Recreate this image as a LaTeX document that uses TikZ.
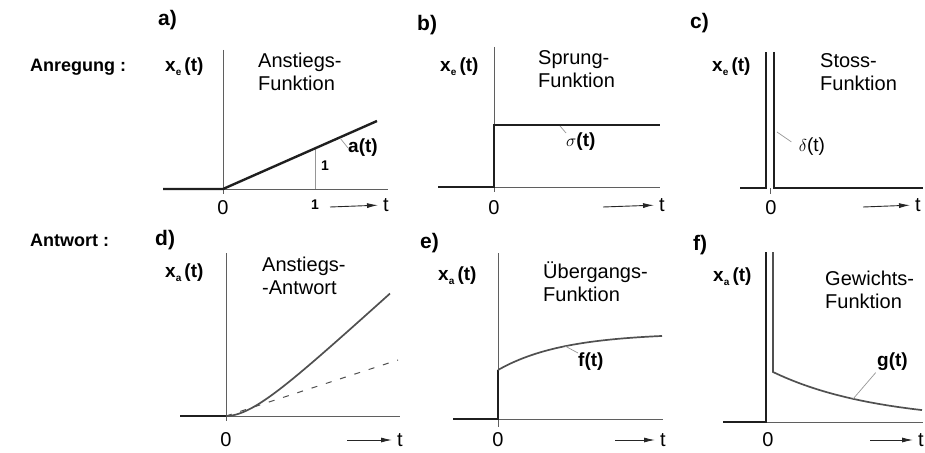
\documentclass[tikz,border=0pt]{standalone}
\usepackage{fontspec}
\setmainfont{Liberation Sans}
\usetikzlibrary{arrows.meta}
\definecolor{axisgray}{RGB}{95,95,95}
\definecolor{curvegray}{RGB}{80,80,80}
\definecolor{leadgray}{RGB}{150,150,150}
\newcommand{\lowidx}[1]{\raisebox{-0.35ex}{\fontsize{10}{10}\selectfont #1}}

\begin{document}
\begin{tikzpicture}[
    x=1pt, y=-1pt,
    axis/.style={draw=axisgray, line width=0.9pt},
    signal/.style={draw=black!88, line width=2.4pt},
    answer/.style={draw=curvegray, line width=1.7pt},
    leader/.style={draw=leadgray, line width=0.7pt},
    guess/.style={draw=curvegray, line width=1pt, dash pattern=on 6pt off 9pt},
    title/.style={font=\fontsize{20}{23}\selectfont, align=left, anchor=north west, inner sep=0pt},
    rowlabel/.style={font=\fontsize{18}{20}\selectfont\bfseries, anchor=west, inner sep=0pt},
    panel/.style={font=\fontsize{21}{24}\selectfont\bfseries, anchor=west, inner sep=0pt},
    ylabel/.style={font=\fontsize{19}{22}\selectfont\bfseries, anchor=west, inner sep=0pt},
    fnlabel/.style={font=\fontsize{19}{22}\selectfont\bfseries, inner sep=0pt},
    fnplain/.style={font=\fontsize{19}{22}\selectfont, inner sep=0pt},
    tick/.style={font=\fontsize{20}{22}\selectfont, inner sep=0pt},
    unit/.style={font=\fontsize{14}{16}\selectfont\bfseries, inner sep=0pt},
    tarrow/.style={-{Latex[length=11pt, width=5pt]}, line width=0.9pt, black!85, shorten >=5pt}
]
\useasboundingbox (0,0) rectangle (925,452);

% row labels
\node[rowlabel] (exc) at (30,67) {Anregung :};
\node[rowlabel] (resp) at (30,240) {Antwort :};

% a) ramp
\node[panel] (pa) at (158,20) {a)};
\node[ylabel] (ya) at (165,67) {x\lowidx{e}\,(t)};
\node[title] (ta) at (258,53) {Anstiegs-\\Funktion};
\draw[axis] (223,50) -- (223,194);
\draw[axis] (223,189) -- (388,189);
\draw[leader] (315,189) -- (315,148);
\draw[signal] (163,189) -- (223,189) -- (377,121);
\node[tick] (za) at (223,208) {0};
\node[unit] (ua) at (315,205) {1};
\node[unit] (va) at (325,166) {1};
\coordinate (ra) at (340,138);
\node[fnlabel, anchor=west] (fa) at (348,148) {a(t)};
\draw[leader] (ra) -- (fa.west);
\coordinate (sa) at (330,207);
\node[tick] (xa) at (386,205) {t};
\draw[tarrow] (sa) -- (xa.west);

% b) step
\node[panel] (pb) at (417,25) {b)};
\node[ylabel] (yb) at (440,67) {x\lowidx{e}\,(t)};
\node[title] (tb) at (538,50) {Sprung-\\Funktion};
\draw[axis] (494,47) -- (494,192);
\draw[axis] (494,187) -- (660,187);
\draw[signal] (438,187) -- (494,187) -- (494,125) -- (660,125);
\node[tick] (zb) at (494,208) {0};
\coordinate (rb) at (560,126);
\node[fnlabel, anchor=north west] (fb) at (566,133) {$\sigma$(t)};
\draw[leader] (rb) -- (fb.north west);
\coordinate (sb) at (603,207);
\node[tick] (xb) at (662,205) {t};
\draw[tarrow] (sb) -- (xb.west);

% c) impulse
\node[panel] (pc) at (690,23) {c)};
\node[ylabel] (yc) at (712,67) {x\lowidx{e}\,(t)};
\node[title] (tc) at (820,53) {Stoss-\\Funktion};
\draw[axis] (770,188) -- (770,194);
\draw[signal] (740,188) -- (766,188) -- (766,52);
\draw[signal] (774,52) -- (774,188) -- (923,188);
\node[tick] (zc) at (771,208) {0};
\coordinate (rc) at (777,132);
\node[fnplain] (fc) at (812,147) {$\delta$(t)};
\draw[leader, shorten >=9pt] (rc) -- (fc.west);
\coordinate (sc) at (863,207);
\node[tick] (xc) at (918,205) {t};
\draw[tarrow] (sc) -- (xc.west);

% d) ramp response
\node[panel] (pd) at (155,240) {d)};
\node[ylabel] (yd) at (165,273) {x\lowidx{a}\,(t)};
\node[title] (td) at (262,257) {Anstiegs-\\-Antwort};
\draw[axis] (226,253) -- (226,421);
\draw[axis] (226,416) -- (400,416);
\draw[signal] (180,416) -- (226,416);
\coordinate (od) at (226,416);
\coordinate (ed) at (398,360);
\draw[guess] (od) -- (ed);
\draw[answer] plot[domain=226:390, samples=50] (\x, {416-0.9*((\x-226)-28*(1-exp(-(\x-226)/28)))});
\node[tick] (zd) at (226,440) {0};
\coordinate (sd) at (347,440);
\node[tick] (xd) at (400,440) {t};
\draw[tarrow] (sd) -- (xd.west);

% e) step response
\node[panel] (pe) at (420,243) {e)};
\node[ylabel] (ye) at (438,276) {x\lowidx{a}\,(t)};
\node[title] (te) at (543,262) {Übergangs-\\Funktion};
\draw[axis] (498,253) -- (498,427);
\draw[axis] (498,419) -- (663,419);
\draw[signal] (453,419) -- (498,419) -- (498,370);
\draw[answer] plot[domain=498:662, samples=40] (\x, {333+37*exp(-(\x-498)/65)});
\coordinate (re) at (565,346);
\node[fnlabel, anchor=north west] (fe) at (578,353) {f(t)};
\draw[leader] (re) -- (fe.north west);
\node[tick] (ze) at (498,440) {0};
\coordinate (se) at (615,440);
\node[tick] (xe) at (663,440) {t};
\draw[tarrow] (se) -- (xe.west);

% f) impulse response
\node[panel] (pf) at (693,245) {f)};
\node[ylabel] (yf) at (713,277) {x\lowidx{a}\,(t)};
\node[title] (tf) at (825,271) {Gewichts-\\Funktion};
\draw[axis] (766,422) -- (923,422);
\draw[signal] (723,422) -- (766,422) -- (766,252);
\draw[answer] (773,252) -- (773,372) -- plot[domain=773:922, samples=40] (\x, {422-50*exp(-(\x-773)/104)});
\coordinate (rf) at (853,399);
\node[fnlabel, anchor=west] (ff) at (877,362) {g(t)};
\draw[leader, shorten >=2pt] (rf) -- (ff.south west);
\node[tick] (zf) at (768,440) {0};
\coordinate (sf) at (870,440);
\node[tick] (xf) at (921,440) {t};
\draw[tarrow] (sf) -- (xf.west);
\end{tikzpicture}
\end{document}
